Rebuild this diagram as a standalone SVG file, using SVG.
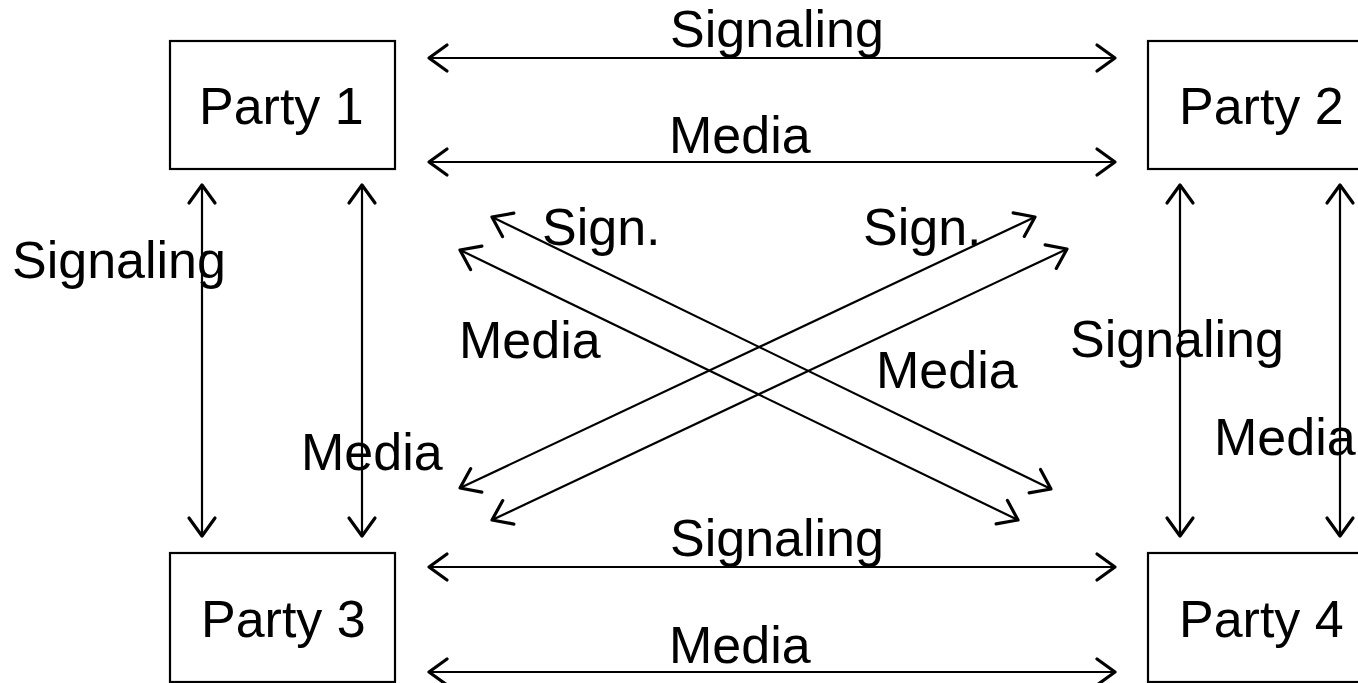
<svg xmlns="http://www.w3.org/2000/svg" width="1358" height="683" viewBox="0 0 1358 683">
<style>
.box{fill:#fff;stroke:#000;stroke-width:2.2}
.lbl{font-family:"Liberation Sans",Arial,Helvetica,sans-serif;font-size:52px;fill:#000}
.con{stroke:#000;stroke-width:2.2;fill:none;marker-start:url(#ah);marker-end:url(#ah)}
</style>
<defs>
<marker id="ah" markerUnits="userSpaceOnUse" markerWidth="30" markerHeight="34" viewBox="-22 -17 26 34" refX="0" refY="0" orient="auto-start-reverse" overflow="visible">
<path d="M-18,-13 L0,0 L-18,13" fill="none" stroke="#000" stroke-width="3.2" stroke-linecap="round" stroke-linejoin="round"/>
</marker>
</defs>
<rect width="1358" height="683" fill="#fff"/>
<g id="party1"><rect class="box" x="170" y="41" width="225" height="128"/><text class="lbl" x="199" y="124">Party 1</text></g>
<g id="party2"><rect class="box" x="1148" y="41" width="225" height="128"/><text class="lbl" x="1179" y="124">Party 2</text></g>
<g id="party3"><rect class="box" x="170" y="553" width="225" height="129"/><text class="lbl" x="201" y="637">Party 3</text></g>
<g id="party4"><rect class="box" x="1148" y="553" width="225" height="129"/><text class="lbl" x="1179" y="637">Party 4</text></g>
<g id="connectors">
<line class="con" x1="429" y1="58" x2="1115" y2="58"/>
<line class="con" x1="429" y1="162" x2="1115" y2="162"/>
<line class="con" x1="429" y1="567" x2="1115" y2="567"/>
<line class="con" x1="429" y1="672" x2="1115" y2="672"/>
<line class="con" x1="202" y1="185" x2="202" y2="536"/>
<line class="con" x1="362" y1="185" x2="362" y2="536"/>
<line class="con" x1="1180" y1="185" x2="1180" y2="536"/>
<line class="con" x1="1340" y1="185" x2="1340" y2="536"/>
<line class="con" x1="492" y1="217" x2="1051" y2="489"/>
<line class="con" x1="460" y1="250" x2="1018" y2="520"/>
<line class="con" x1="1035" y1="217" x2="460" y2="488"/>
<line class="con" x1="1067" y1="249" x2="492" y2="520"/>
</g>
<g id="labels">
<text class="lbl" x="670" y="47">Signaling</text>
<text class="lbl" x="669" y="153">Media</text>
<text class="lbl" x="670" y="556">Signaling</text>
<text class="lbl" x="669" y="663">Media</text>
<text class="lbl" x="12" y="278">Signaling</text>
<text class="lbl" x="301" y="470">Media</text>
<text class="lbl" x="1070" y="357">Signaling</text>
<text class="lbl" x="1214" y="455">Media</text>
<text class="lbl" x="542" y="245">Sign.</text>
<text class="lbl" x="863" y="245">Sign.</text>
<text class="lbl" x="459" y="358">Media</text>
<text class="lbl" x="876" y="388">Media</text>
</g>
</svg>
